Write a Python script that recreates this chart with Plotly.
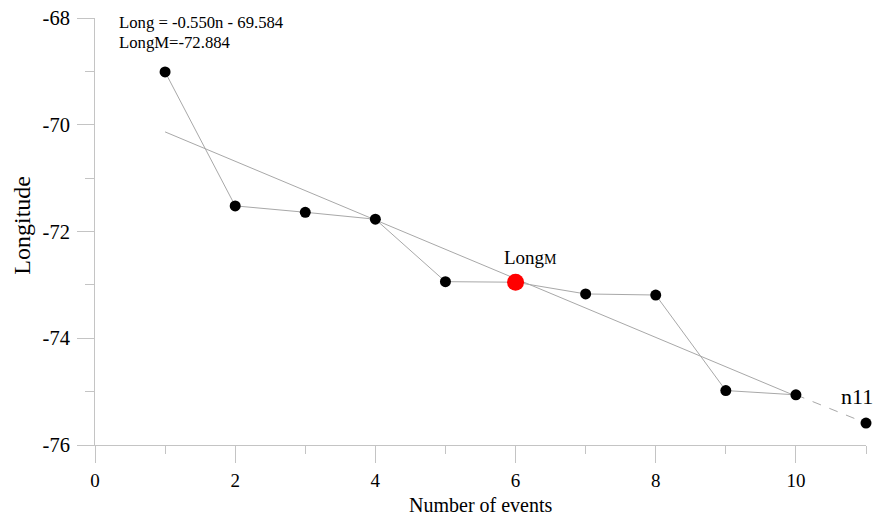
import plotly.graph_objects as go

# Data
events = [1, 2, 3, 4, 5, 6, 7, 8, 9, 10]
longitude = [-69.01, -71.52, -71.64, -71.77, -72.94, -72.95, -73.17, -73.19, -74.98, -75.06]
next_event = [11]
next_longitude = [-75.59]
mean_event = [6]
mean_longitude = [-72.95]
slope = -0.550
intercept = -69.584
fit_range = [1, 10]
x_ticks = [0, 2, 4, 6, 8, 10]
y_ticks = [-76, -74, -72, -70, -68]
y_tick_labels = ["-76", "-74", "-72", "-70", "-68"]

FONT = "Liberation Serif, Times New Roman, serif"
AXIS = "#c4c4c4"
LINE = "#a8a8a8"

fig = go.Figure()

# regression line
fig.add_trace(go.Scatter(
    x=fit_range, y=[slope * v + intercept for v in fit_range],
    mode="lines", line=dict(color=LINE, width=1), hoverinfo="skip"))

# dashed extension to n11
fig.add_trace(go.Scatter(
    x=[events[-1]] + next_event, y=[longitude[-1]] + next_longitude,
    mode="lines", line=dict(color=LINE, width=1, dash="dash"), hoverinfo="skip"))

# observed series
fig.add_trace(go.Scatter(
    x=events, y=longitude, mode="lines+markers",
    line=dict(color=LINE, width=1),
    marker=dict(color="black", size=11)))

fig.add_trace(go.Scatter(
    x=next_event, y=next_longitude, mode="markers", cliponaxis=False,
    marker=dict(color="black", size=11)))

# mean point
fig.add_trace(go.Scatter(
    x=mean_event, y=mean_longitude, mode="markers",
    marker=dict(color="#ff0000", size=17)))

fig.update_layout(
    width=882, height=518,
    margin=dict(l=95, r=16, t=18, b=73, autoexpand=False),
    paper_bgcolor="white", plot_bgcolor="white",
    showlegend=False,
    font=dict(family=FONT, color="black", size=18),
    xaxis=dict(
        range=[0, 11], tickvals=x_ticks, showgrid=False, zeroline=False, automargin=False,
        showline=True, linecolor=AXIS, linewidth=1,
        ticks="outside", ticklen=17, tickcolor=AXIS, tickwidth=1,
        tickfont=dict(family=FONT, size=19), ticklabelstandoff=1,
        minor=dict(dtick=1, tick0=0, ticks="outside", ticklen=8, tickcolor=AXIS, showgrid=False),
    ),
    yaxis=dict(
        range=[-76, -68], tickvals=y_ticks, ticktext=y_tick_labels,
        showgrid=False, zeroline=False, automargin=False,
        showline=True, linecolor=AXIS, linewidth=1,
        ticks="outside", ticklen=17, tickcolor=AXIS, tickwidth=1,
        tickfont=dict(family=FONT, size=20.5), ticklabelstandoff=3,
        minor=dict(dtick=1, tick0=0, ticks="outside", ticklen=9, tickcolor=AXIS, showgrid=False),
    ),
    annotations=[
        dict(text="Long = -0.550n - 69.584", xref="x", yref="y", x=0.32, y=-68.09,
             xanchor="left", yanchor="middle", showarrow=False, font=dict(size=16.7)),
        dict(text="LongM=-72.884", xref="x", yref="y", x=0.32, y=-68.45,
             xanchor="left", yanchor="middle", showarrow=False, font=dict(size=16.7)),
        dict(text="Long<span style='font-size:14px'>M</span>", xref="x", yref="y", x=6.22, y=-72.48,
             xanchor="center", yanchor="middle", showarrow=False, font=dict(size=19)),
        dict(text="n11", xref="x", yref="y", x=10.87, y=-75.1,
             xanchor="center", yanchor="middle", showarrow=False, font=dict(size=22)),
        dict(text="Number of events", xref="paper", yref="paper", x=0.5, y=-0.1405,
             xanchor="center", yanchor="middle", showarrow=False, borderpad=0,
             font=dict(size=20)),
        dict(text="Longitude", xref="paper", yref="paper", x=-0.0947, y=0.516,
             xanchor="center", yanchor="middle", textangle=-90, showarrow=False, font=dict(size=24)),
    ],
)

fig.write_html("out.html", config={"displayModeBar": False})

# remove default page margin so the figure sits at the window's top-left corner
with open("out.html", "r", encoding="utf-8") as f:
    html = f.read()
html = html.replace("<head>", "<head><style>html,body{margin:0;padding:0;overflow:hidden;}</style>", 1)
with open("out.html", "w", encoding="utf-8") as f:
    f.write(html)
